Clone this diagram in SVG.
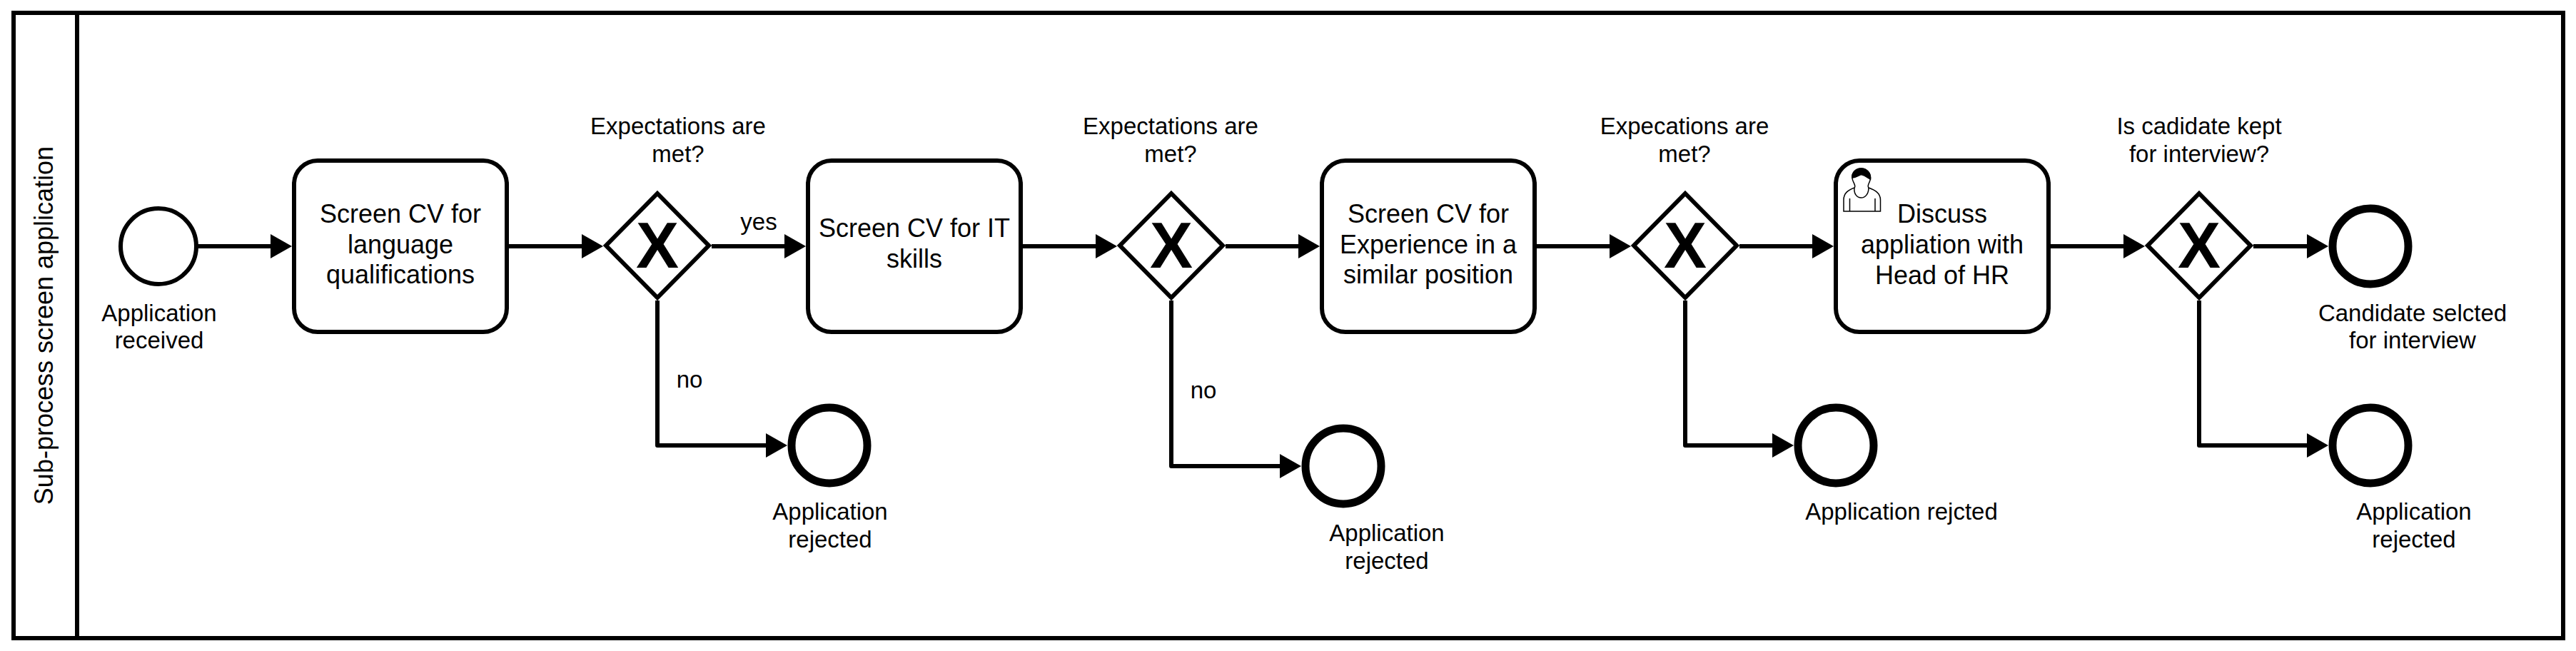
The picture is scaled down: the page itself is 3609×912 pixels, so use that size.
<svg xmlns="http://www.w3.org/2000/svg" width="3609" height="912" viewBox="0 0 3609 912">
<style>
text{font-family:"Liberation Sans",Arial,sans-serif;fill:#000;text-anchor:middle}
.l{font-size:33px}
.t{font-size:36px}
.x{font-size:90px;font-weight:bold}
.s{fill:#fff;stroke:#000;stroke-width:6}
.e{fill:#fff;stroke:#000;stroke-width:11}
.c{fill:none;stroke:#000;stroke-width:6;stroke-linejoin:round;marker-end:url(#a)}
.task{fill:#fff;stroke:#000;stroke-width:6}
</style>
<defs>
<marker id="a" markerUnits="userSpaceOnUse" markerWidth="30" markerHeight="34" viewBox="0 0 30 34" refX="20" refY="17" orient="auto"><path d="M0 0L30 17L0 34Z" fill="#000"/></marker>
<path id="gw" d="M0 -73L72 0L0 73L-72 0Z" class="s"/>
</defs>
<rect width="3609" height="912" fill="#fff"/>
<g id="lane">
<rect class="s" x="19" y="18" width="3572" height="876" fill="none"/>
<line x1="108" y1="18" x2="108" y2="894" stroke="#000" stroke-width="6"/>
<text class="t" transform="translate(74 456) rotate(-90)">Sub-process screen application</text>
</g>
<g id="connectors">
<path class="c" d="M277 345H399"/>
<path class="c" d="M713 345H835"/>
<path class="c" d="M997 345H1119"/>
<path class="c" d="M921 421V624H1093"/>
<path class="c" d="M1433 345H1555"/>
<path class="c" d="M1717 345H1839"/>
<path class="c" d="M1641 421V653H1813"/>
<path class="c" d="M2153 345H2275"/>
<path class="c" d="M2437 345H2559"/>
<path class="c" d="M2361 421V624H2503"/>
<path class="c" d="M2873 345H2995"/>
<path class="c" d="M3157 345H3252"/>
<path class="c" d="M3081 421V624H3252"/>
<text class="l" x="1063" y="322">yes</text>
<text class="l" x="966" y="543">no</text>
<text class="l" x="1686" y="558">no</text>
</g>
<g id="start">
<circle class="s" cx="222" cy="345" r="53"/>
<text class="l" x="223" y="450">Application</text><text class="l" x="223" y="488">received</text>
</g>
<g id="task1">
<rect class="task" x="412" y="225" width="298" height="240" rx="33"/>
<text class="t" x="561" y="312">Screen CV for</text><text class="t" x="561" y="355">language</text><text class="t" x="561" y="397">qualifications</text>
</g>
<g id="gateway1">
<use href="#gw" x="921" y="344"/>
<text class="x" x="921" y="375">X</text>
<text class="l" x="950" y="188">Expectations are</text><text class="l" x="950" y="227">met?</text>
</g>
<g id="end1">
<circle class="e" cx="1162" cy="624" r="53"/>
<text class="l" x="1163" y="728">Application</text><text class="l" x="1163" y="767">rejected</text>
</g>
<g id="task2">
<rect class="task" x="1132" y="225" width="298" height="240" rx="33"/>
<text class="t" x="1281" y="332">Screen CV for IT</text><text class="t" x="1281" y="375">skills</text>
</g>
<g id="gateway2">
<use href="#gw" x="1641" y="344"/>
<text class="x" x="1641" y="375">X</text>
<text class="l" x="1640" y="188">Expectations are</text><text class="l" x="1640" y="227">met?</text>
</g>
<g id="end2">
<circle class="e" cx="1882" cy="653" r="53"/>
<text class="l" x="1943" y="758">Application</text><text class="l" x="1943" y="797">rejected</text>
</g>
<g id="task3">
<rect class="task" x="1852" y="225" width="298" height="240" rx="33"/>
<text class="t" x="2001" y="312">Screen CV for</text><text class="t" x="2001" y="355">Experience in a</text><text class="t" x="2001" y="397">similar position</text>
</g>
<g id="gateway3">
<use href="#gw" x="2361" y="344"/>
<text class="x" x="2361" y="375">X</text>
<text class="l" x="2360" y="188">Expecations are</text><text class="l" x="2360" y="227">met?</text>
</g>
<g id="end3">
<circle class="e" cx="2572" cy="624" r="53"/>
<text class="l" x="2664" y="728">Application rejcted</text>
</g>
<g id="task4">
<rect class="task" x="2572" y="225" width="298" height="240" rx="33"/>
<g fill="#fff" stroke="#000" stroke-width="1.5">
<path d="M2583 296V280C2583 270 2590 266 2598 263C2601 260 2596 256 2595 250C2594 242 2600 236 2607.500 236C2615 236 2621 242 2620.500 250C2620 256 2615 260 2618 263C2626 266 2634.500 270 2634.500 280V296Z"/>
<path d="M2598 263C2597 272 2602 277 2607.500 277C2613 277 2618 272 2618 263M2591.500 278V296M2627 278V296" fill="none"/>
<path d="M2595 249C2594 242 2600 236 2607.500 236C2615 236 2621 242 2620.500 251C2614 248 2610 243 2606 245C2602 247 2599 249 2595 249Z" fill="#000"/>
</g>
<text class="t" x="2721" y="312">Discuss</text><text class="t" x="2721" y="355">appliation with</text><text class="t" x="2721" y="398">Head of HR</text>
</g>
<g id="gateway4">
<use href="#gw" x="3081" y="344"/>
<text class="x" x="3081" y="375">X</text>
<text class="l" x="3081" y="188">Is cadidate kept</text><text class="l" x="3081" y="227">for interview?</text>
</g>
<g id="end4">
<circle class="e" cx="3321" cy="345" r="53"/>
<text class="l" x="3380" y="450">Candidate selcted</text><text class="l" x="3380" y="488">for interview</text>
</g>
<g id="end5">
<circle class="e" cx="3321" cy="624" r="53"/>
<text class="l" x="3382" y="728">Application</text><text class="l" x="3382" y="767">rejected</text>
</g>
</svg>
